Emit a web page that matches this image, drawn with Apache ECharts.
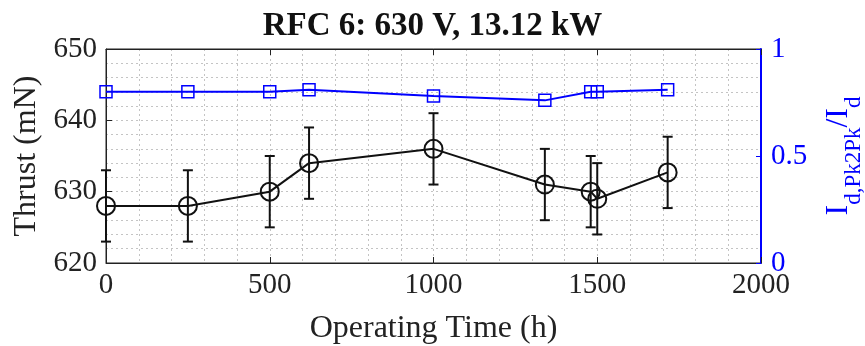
<!DOCTYPE html>
<html>
<head>
<meta charset="utf-8">
<script src="https://cdn.jsdelivr.net/npm/echarts@6/dist/echarts.min.js"></script>
<style>
html,body{margin:0;padding:0;background:#fff;}
#chart{width:865px;height:346px;}
</style>
</head>
<body>
<div id="chart"></div>
<script>
const titleText = 'RFC 6: 630 V, 13.12 kW';
const times = [0, 250, 500, 620, 1000, 1340, 1480, 1500, 1715];
const thrust = [628, 628, 630, 634, 636, 631, 630, 629, 632.7];
const thrustErr = [5, 5, 5, 5, 5, 5, 5, 5, 5];
const ratio = [0.80, 0.80, 0.80, 0.81, 0.78, 0.76, 0.80, 0.80, 0.81];

const FONT = 'Liberation Serif';
const BLUE = '#0000ff';
const TICK_FS = 29;
const NAME_FS = 32;
const gridLine = {show: true, lineStyle: {color: '#c4c4c4', type: [2, 3], width: 1}};

const thrustData = times.map((t, i) => [t, thrust[i]]);
const ratioData = times.map((t, i) => [t, ratio[i]]);
const errData = times.map((t, i) => [t, thrust[i] - thrustErr[i], thrust[i] + thrustErr[i]]);

const chart = echarts.init(document.getElementById('chart'));
chart.setOption({
  animation: false,
  backgroundColor: '#fff',
  title: {
    text: titleText, left: 'center', top: 5,
    textStyle: {fontFamily: FONT, fontWeight: 'bold', fontSize: 33, color: '#111'}
  },
  grid: {left: 106, right: 104, top: 49, bottom: 83, show: true, borderColor: '#222', borderWidth: 1,
         containLabel: false, outerBoundsMode: 'none'},
  xAxis: [
    {
      type: 'value', min: 0, max: 2000, interval: 500,
      name: 'Operating Time (h)', nameLocation: 'middle', nameGap: 50,
      nameTextStyle: {fontFamily: FONT, fontSize: NAME_FS, color: '#222'},
      axisLine: {show: true, onZero: false, lineStyle: {color: '#222', width: 1}},
      axisTick: {show: true, inside: true, length: 6, lineStyle: {color: '#222'}},
      minorTick: {show: false, splitNumber: 5},
      axisLabel: {fontFamily: FONT, fontSize: TICK_FS, color: '#222', margin: 8, formatter: v => String(v)},
      splitLine: gridLine,
      minorSplitLine: gridLine
    },
    {
      type: 'value', min: 0, max: 2000, interval: 500, position: 'top',
      axisLine: {show: true, onZero: false, lineStyle: {color: '#222', width: 1}},
      axisTick: {show: true, inside: true, length: 6, lineStyle: {color: '#222'}},
      axisLabel: {show: false},
      splitLine: {show: false}
    }
  ],
  yAxis: [
    {
      type: 'value', min: 620, max: 650, interval: 10,
      name: 'Thrust (mN)', nameLocation: 'middle', nameGap: 62, nameRotate: 90,
      nameTextStyle: {fontFamily: FONT, fontSize: NAME_FS, color: '#222'},
      axisLine: {show: true, onZero: false, lineStyle: {color: '#222', width: 1}},
      axisTick: {show: true, inside: true, length: 6, lineStyle: {color: '#222'}},
      minorTick: {show: false, splitNumber: 5},
      axisLabel: {fontFamily: FONT, fontSize: TICK_FS, color: '#222', margin: 9},
      splitLine: gridLine,
      minorSplitLine: gridLine
    },
    {
      type: 'value', min: 0, max: 1, interval: 0.5, position: 'right',
      name: '{m|I}{s|d,Pk2Pk}{m|/I}{s|d}', nameLocation: 'middle', nameGap: 62, nameRotate: 90,
      nameTextStyle: {
        fontFamily: FONT, fontSize: NAME_FS, color: BLUE,
        rich: {
          m: {fontFamily: FONT, fontSize: 32, color: BLUE, verticalAlign: 'top', lineHeight: 42},
          s: {fontFamily: FONT, fontSize: 23, color: BLUE, verticalAlign: 'bottom', lineHeight: 42, padding: [16, 0, 0, 0]}
        }
      },
      axisLine: {show: true, onZero: false, lineStyle: {color: BLUE, width: 2}},
      axisTick: {show: true, inside: true, length: 5, lineStyle: {color: BLUE}},
      axisLabel: {fontFamily: FONT, fontSize: TICK_FS, color: BLUE, margin: 10},
      splitLine: {show: false}
    }
  ],
  series: [
    {
      type: 'line', yAxisIndex: 1, data: ratioData,
      symbol: 'rect', symbolSize: 12,
      lineStyle: {color: BLUE, width: 2},
      itemStyle: {color: 'rgba(0,0,0,0)', borderColor: BLUE, borderWidth: 1.5},
      z: 3
    },
    {
      type: 'custom', yAxisIndex: 0, data: errData,
      encode: {x: 0, y: [1, 2]},
      renderItem: function (params, api) {
        const x = api.value(0);
        const lo = api.coord([x, api.value(1)]);
        const hi = api.coord([x, api.value(2)]);
        const w = 5;
        const style = {stroke: '#111', lineWidth: 2};
        return {
          type: 'group',
          children: [
            {type: 'line', shape: {x1: lo[0], y1: lo[1], x2: hi[0], y2: hi[1]}, style: style},
            {type: 'line', shape: {x1: lo[0] - w, y1: lo[1], x2: lo[0] + w, y2: lo[1]}, style: style},
            {type: 'line', shape: {x1: hi[0] - w, y1: hi[1], x2: hi[0] + w, y2: hi[1]}, style: style}
          ]
        };
      },
      z: 4
    },
    {
      type: 'line', yAxisIndex: 0, data: thrustData,
      symbol: 'circle', symbolSize: 18,
      lineStyle: {color: '#111', width: 2},
      itemStyle: {color: 'rgba(0,0,0,0)', borderColor: '#111', borderWidth: 2},
      z: 5
    }
  ]
});
</script>
</body>
</html>
